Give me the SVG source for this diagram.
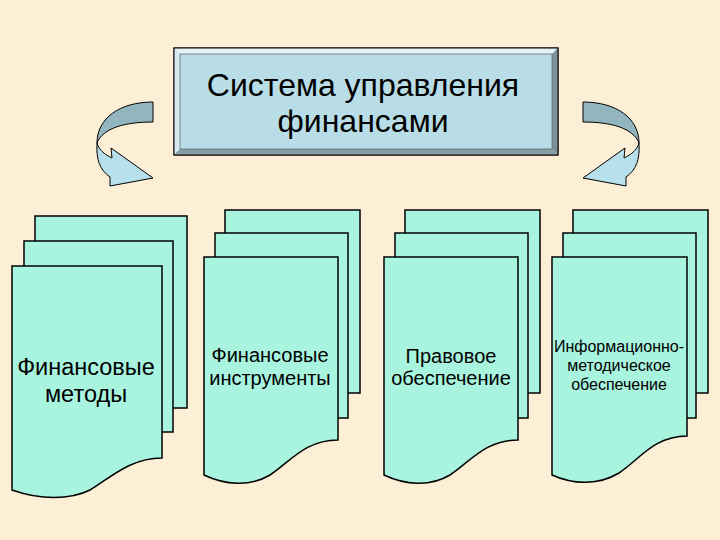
<svg xmlns="http://www.w3.org/2000/svg" width="720" height="540" viewBox="0 0 720 540">
<style>
  .sheet { fill: #a8f4de; stroke: #000; stroke-width: 1.5; }
  .band { fill: #93b5bf; stroke: #000; stroke-width: 1; }
  .head { fill: #b8e0ec; stroke: #000; stroke-width: 1; }
  .lbl { font-family: "Liberation Sans", Arial, sans-serif; fill: #000; text-anchor: middle; }
</style>
<defs>
  <g id="curl">
    <path class="band" d="M153,102 C120,102 97,118 97,143 C103,128 125,122 153,122 Z"/>
    <path class="head" d="M97,143 C99,150 104,154 112,158 L111,148 L153,178 L110,186 L110,177 C100,170 96,160 97,143 Z"/>
  </g>
</defs>
<rect x="0" y="0" width="720" height="540" fill="#fcefd6"/>

<g id="title">
  <rect x="174" y="48" width="384" height="107" fill="#b9dde6" stroke="#000" stroke-width="1"/>
  <polygon points="174,48 558,48 552,54 180,54" fill="#e4f1f5"/>
  <polygon points="174,48 180,54 180,149 174,155" fill="#d6e9ef"/>
  <polygon points="558,48 558,155 552,149 552,54" fill="#7d9198"/>
  <polygon points="174,155 558,155 552,149 180,149" fill="#8a9ea5"/>
  <rect x="174" y="48" width="384" height="107" fill="none" stroke="#000" stroke-width="1"/>
  <rect x="180" y="54" width="372" height="95" fill="#b9dde6" stroke="#5c6f75" stroke-width="0.8"/>
  <text class="lbl" x="363" y="96" font-size="32">Система управления</text>
  <text class="lbl" x="363" y="132" font-size="32">финансами</text>
</g>

<g id="connectors">
  <use href="#curl"/>
  <use href="#curl" transform="translate(736,0) scale(-1,1)"/>
</g>

<g id="methods">
  <rect class="sheet" x="35" y="216" width="152" height="192"/>
  <rect class="sheet" x="24" y="241" width="149" height="191"/>
  <path class="sheet" d="M12,266 H162 V458 C130,458 110,478 90,490 C70,500 40,500 12,490 Z"/>
  <text class="lbl" x="86" y="375" font-size="23.5">Финансовые</text>
  <text class="lbl" x="86" y="402" font-size="23.5">методы</text>
</g>

<g id="instruments">
  <rect class="sheet" x="225" y="210" width="135" height="183"/>
  <rect class="sheet" x="215" y="233" width="133" height="185"/>
  <path class="sheet" d="M204,257 H338 V440 C305,440 290,462 270,475 C250,487 225,485 204,475 Z"/>
  <text class="lbl" x="270" y="362" font-size="20">Финансовые</text>
  <text class="lbl" x="270" y="385" font-size="20">инструменты</text>
</g>

<g id="legal">
  <rect class="sheet" x="405" y="210" width="135" height="183"/>
  <rect class="sheet" x="395" y="233" width="133" height="185"/>
  <path class="sheet" d="M384,257 H518 V440 C485,440 470,462 450,475 C430,487 405,485 384,475 Z"/>
  <text class="lbl" x="451" y="363" font-size="20">Правовое</text>
  <text class="lbl" x="451" y="385" font-size="20">обеспечение</text>
</g>

<g id="info">
  <rect class="sheet" x="573" y="210" width="135" height="183"/>
  <rect class="sheet" x="563" y="233" width="133" height="185"/>
  <path class="sheet" d="M552,257 H687 V436 C654,436 639,460 619,473 C599,485 574,485 552,475 Z"/>
  <text class="lbl" x="619" y="352" font-size="16">Информационно-</text>
  <text class="lbl" x="619" y="371" font-size="16">методическое</text>
  <text class="lbl" x="619" y="390" font-size="16">обеспечение</text>
</g>
</svg>
